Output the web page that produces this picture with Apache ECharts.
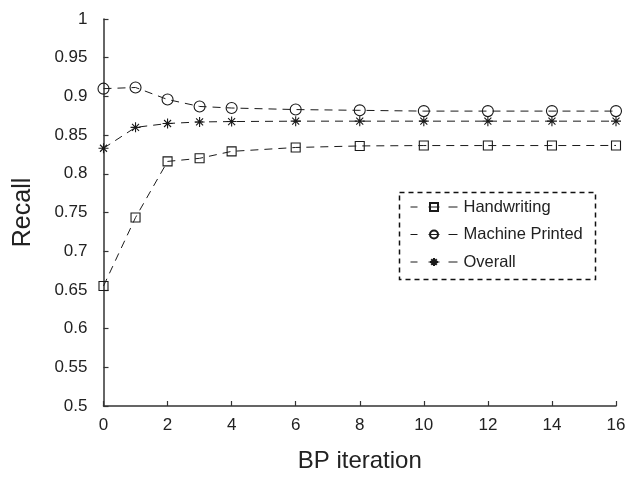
<!DOCTYPE html>
<html>
<head>
<meta charset="utf-8">
<script src="https://cdn.jsdelivr.net/npm/echarts@6/dist/echarts.min.js"></script>
<style>
html,body{margin:0;padding:0;background:#fff;}
#chart{width:629px;height:478px;}
</style>
</head>
<body>
<div id="chart"></div>
<script>
var iterations = [0, 1, 2, 3, 4, 6, 8, 10, 12, 14, 16];
var handwriting = [0.655, 0.7435, 0.816, 0.820, 0.829, 0.834, 0.836, 0.8365, 0.8365, 0.8365, 0.8366];
var machinePrinted = [0.910, 0.9115, 0.896, 0.887, 0.885, 0.883, 0.882, 0.881, 0.881, 0.881, 0.881];
var overall = [0.833, 0.860, 0.865, 0.867, 0.8675, 0.868, 0.868, 0.868, 0.868, 0.868, 0.868];
var seriesNames = ['Handwriting', 'Machine Printed', 'Overall'];
var xTicks = [0, 2, 4, 6, 8, 10, 12, 14, 16];
var yTicks = [0.5, 0.55, 0.6, 0.65, 0.7, 0.75, 0.8, 0.85, 0.9, 0.95, 1];

function pairs(vals) { return iterations.map(function (x, i) { return [x, vals[i]]; }); }

var FONT = '"Liberation Sans", Arial, Helvetica, sans-serif';
var LC = '#1a1a1a';
var dash = [8, 6];
var star = 'path://M0,5L10,5M5,0L5,10M1.5,1.5L8.5,8.5M8.5,1.5L1.5,8.5';

function mk(name, vals, symbol, size) {
  return {
    name: name, type: 'line', data: pairs(vals),
    symbol: symbol, symbolSize: size, showAllSymbol: true,
    lineStyle: { color: LC, width: 1, type: dash },
    itemStyle: { color: symbol === star ? LC : 'transparent', borderColor: LC, borderWidth: 1.1 },
    emphasis: { disabled: true },
    animation: false
  };
}

var chart = echarts.init(document.getElementById('chart'), null, { renderer: 'canvas' });
chart.setOption({
  backgroundColor: '#fff',
  animation: false,
  grid: { left: 103.5, right: 13, top: 19, bottom: 65, containLabel: false },
  xAxis: {
    type: 'value', min: 0, max: 16, interval: 2,
    name: 'BP iteration', nameLocation: 'middle', nameGap: 43,
    nameTextStyle: { fontFamily: FONT, fontSize: 24, color: '#222' },
    axisLine: { show: true, lineStyle: { color: '#333', width: 1.5 } },
    axisTick: { show: true, inside: true, length: 5, lineStyle: { color: '#333', width: 1.2 } },
    axisLabel: { fontFamily: FONT, fontSize: 17, color: '#222', margin: 11,
      formatter: function (v) { return xTicks.indexOf(v) >= 0 ? String(v) : ''; } },
    splitLine: { show: false }
  },
  yAxis: {
    type: 'value', min: 0.5, max: 1, interval: 0.05,
    name: 'Recall', nameLocation: 'middle', nameGap: 68, nameRotate: 90,
    nameTextStyle: { fontFamily: FONT, fontSize: 25, color: '#222' },
    axisLine: { show: true, lineStyle: { color: '#333', width: 1.5 } },
    axisTick: { show: true, inside: true, length: 5, lineStyle: { color: '#333', width: 1.2 } },
    axisLabel: { fontFamily: FONT, fontSize: 17, color: '#222', margin: 16,
      formatter: function (v) {
        var r = Math.round(v * 100) / 100;
        for (var i = 0; i < yTicks.length; i++) if (Math.abs(yTicks[i] - r) < 1e-9) return String(yTicks[i]);
        return '';
      } },
    splitLine: { show: false }
  },
  legend: {
    orient: 'vertical', left: 410, top: 198.5, padding: 0,
    itemWidth: 47, itemHeight: 10, itemGap: 10.5,
    data: seriesNames,
    lineStyle: { type: [7, 11, 11, 9, 9, 0], width: 1 },
    textStyle: { fontFamily: FONT, fontSize: 16.5, color: '#222', padding: [0, 0, 0, 1] },
    selectedMode: false
  },
  graphic: [{
    type: 'rect', left: 397, top: 190, z: 100,
    shape: { width: 196, height: 87 },
    style: { fill: 'none', stroke: '#111', lineWidth: 1.5, lineDash: [5, 4] }
  }],
  series: [
    mk(seriesNames[0], handwriting, 'rect', 9),
    mk(seriesNames[1], machinePrinted, 'circle', 11),
    mk(seriesNames[2], overall, star, 10)
  ]
});
</script>
</body>
</html>
